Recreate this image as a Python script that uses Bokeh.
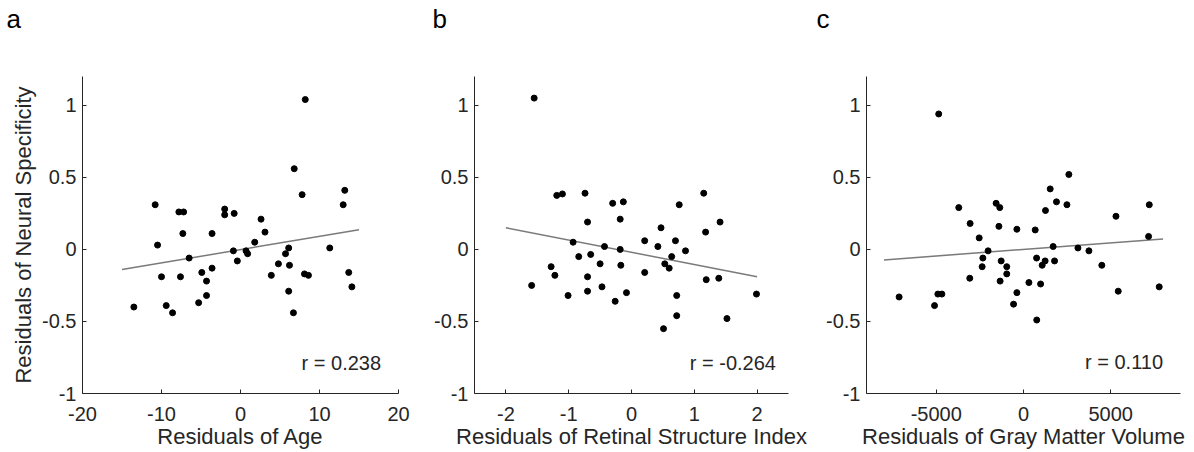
from bokeh.plotting import figure
from bokeh.layouts import row, column
from bokeh.models import Range1d, Label, FixedTicker, CustomJSTickFormatter
from bokeh.core.properties import value
from bokeh.embed import file_html
from bokeh.resources import INLINE

FONT = "Liberation Sans"
TXT = "#262626"

# Panel a: residuals of age
age_x = [-13.5, -10.8, -10.5, -10.0, -9.4, -8.6, -7.8, -7.2, -7.6, -7.3, -6.5, -5.3,
         -4.9, -4.3, -4.3, -3.6, -3.6, -2.0, -2.0, -0.8, -0.9, -0.4, 0.7, 0.9, 1.8,
         2.6, 3.1, 3.9, 4.8, 5.7, 6.1, 6.2, 6.1, 6.7, 6.8, 7.8, 8.2, 8.1, 8.6, 11.3,
         13.0, 13.2, 13.7, 14.1]
age_y = [-0.40, 0.31, 0.03, -0.19, -0.39, -0.44, 0.26, 0.26, -0.19, 0.11, -0.06, -0.37,
         -0.16, -0.22, -0.32, 0.11, -0.13, 0.28, 0.24, 0.25, -0.01, -0.08, -0.01, -0.03,
         0.05, 0.21, 0.12, -0.18, -0.10, -0.03, 0.01, -0.11, -0.29, -0.44, 0.56, 0.38,
         1.04, -0.17, -0.18, 0.01, 0.31, 0.41, -0.16, -0.26]
age_fit_x = [-15, 15]
age_fit_y = [-0.14, 0.137]

# Panel b: residuals of retinal structure index
rsi_x = [-1.55, -1.59, -1.28, -1.22, -1.19, -1.10, -1.01, -0.93, -0.84, -0.74, -0.70,
         -0.70, -0.70, -0.65, -0.50, -0.47, -0.43, -0.30, -0.26, -0.18, -0.18, -0.17,
         -0.13, -0.08, 0.21, 0.21, 0.42, 0.47, 0.51, 0.53, 0.60, 0.64, 0.70, 0.72, 0.72,
         0.76, 0.86, 1.15, 1.18, 1.19, 1.39, 1.41, 1.52, 1.99]
rsi_y = [1.05, -0.25, -0.12, -0.18, 0.375, 0.385, -0.32, 0.05, -0.05, 0.39, 0.19,
         -0.19, -0.29, -0.035, -0.10, -0.26, 0.02, 0.32, -0.36, 0.21, 0.00, -0.11,
         0.33, -0.30, 0.06, -0.16, 0.02, 0.15, -0.55, -0.10, -0.13, -0.05, 0.06, -0.32,
         -0.46, 0.31, -0.01, 0.39, 0.12, -0.21, -0.20, 0.19, -0.48, -0.31]
rsi_fit_x = [-2, 2]
rsi_fit_y = [0.15, -0.19]

# Panel c: residuals of gray matter volume
gmv_x = [-7130, -5100, -4860, -4910, -4680, -3710, -3060, -3080, -2540, -2330, -2370,
         -2030, -1570, -1360, -1410, -1280, -1340, -960, -960, -570, -380, -380, 310,
         670, 750, 760, 980, 1070, 1240, 1260, 1530, 1700, 1780, 1890, 2490, 2600, 3120,
         3750, 4490, 5300, 5430, 7210, 7170, 7780]
gmv_y = [-0.33, -0.39, 0.94, -0.31, -0.31, 0.29, 0.18, -0.20, 0.08, -0.06, -0.12,
         -0.01, 0.32, 0.29, 0.16, -0.08, -0.22, -0.12, -0.17, -0.38, 0.14, -0.30, -0.23,
         0.135, -0.06, -0.49, -0.24, -0.11, -0.08, 0.27, 0.42, 0.02, -0.08, 0.33, 0.31,
         0.52, 0.01, -0.01, -0.11, 0.23, -0.29, 0.31, 0.09, -0.26]
gmv_fit_x = [-8000, 8000]
gmv_fit_y = [-0.073, 0.073]

panel_letters = ["a", "b", "c"]
x_titles = ["Residuals of Age", "Residuals of Retinal Structure Index",
            "Residuals of Gray Matter Volume"]
y_title = "Residuals of Neural Specificity"
r_texts = ["r = 0.238", "r = -0.264", "r = 0.110"]
x_ranges = [(-20, 20), (-2.5, 2.5), (-9000, 9000)]
x_ticks = [[-20, -10, 0, 10, 20], [-2, -1, 0, 1, 2], [-5000, 0, 5000]]
y_ticks = [-1, -0.5, 0, 0.5, 1]

xs = [age_x, rsi_x, gmv_x]
ys = [age_y, rsi_y, gmv_y]
fxs = [age_fit_x, rsi_fit_x, gmv_fit_x]
fys = [age_fit_y, rsi_fit_y, gmv_fit_y]

r_pos = [(17.8, -0.79), (2.30, -0.79), (8000, -0.78)]

borders_left = [82, 64, 56]
borders_right = [12, 22, 6]
frame_widths = [316, 314, 314]
TOTAL_W = sum(borders_left) + sum(borders_right) + sum(frame_widths)
HEAD_H = 44

# header strip holding the panel letters (pixel coordinates, y measured from its bottom)
head = figure(title=None, frame_width=TOTAL_W, frame_height=HEAD_H, min_border=0,
              x_range=Range1d(0, TOTAL_W), y_range=Range1d(0, HEAD_H),
              x_axis_location=None, y_axis_location=None,
              output_backend="svg", toolbar_location=None)
head.outline_line_color = None
head.grid.visible = False
letter_x = [6, 432, 816]
letter_y = [HEAD_H - 18] * 3
head.text(x=letter_x, y=letter_y, text=panel_letters, text_font=value(FONT),
          text_font_size="26px", text_color="black", text_align="left",
          text_baseline="alphabetic")

fmt = CustomJSTickFormatter(code="return tick.toString();")

figs = []
for i in range(3):
    p = figure(frame_width=frame_widths[i], frame_height=317,
               min_border_left=borders_left[i], min_border_right=borders_right[i],
               min_border_top=76 - HEAD_H, min_border_bottom=56,
               x_range=Range1d(*x_ranges[i]), y_range=Range1d(-1, 1.2),
               output_backend="svg", toolbar_location=None)
    p.outline_line_color = None
    p.grid.visible = False
    p.background_fill_color = "white"
    p.border_fill_color = "white"

    p.line(fxs[i], fys[i], line_color="#7a7a7a", line_width=1.5)
    p.scatter(xs[i], ys[i], size=6, fill_color="black", line_color="black")

    for ax in (p.xaxis[0], p.yaxis[0]):
        ax.axis_line_color = TXT
        ax.axis_line_width = 1
        ax.major_tick_line_color = TXT
        ax.major_tick_in = 4
        ax.major_tick_out = 0
        ax.minor_tick_line_color = None
        ax.major_label_text_font = FONT
        ax.major_label_text_font_size = "20px"
        ax.major_label_text_color = TXT
        ax.axis_label_text_font = FONT
        ax.axis_label_text_font_size = "22px"
        ax.axis_label_text_font_style = "normal"
        ax.axis_label_text_color = TXT
        ax.formatter = fmt
    p.xaxis.ticker = FixedTicker(ticks=x_ticks[i])
    p.yaxis.ticker = FixedTicker(ticks=y_ticks)
    p.xaxis.major_label_standoff = 13
    p.yaxis.major_label_standoff = 6
    p.xaxis.axis_label = x_titles[i]
    p.xaxis.axis_label_standoff = 0
    if i == 0:
        p.yaxis.axis_label = y_title
        p.yaxis.axis_label_standoff = 3

    p.add_layout(Label(x=r_pos[i][0], y=r_pos[i][1], text=r_texts[i],
                       text_align="right", text_baseline="middle",
                       text_font=FONT, text_font_size="20px", text_color=TXT))
    figs.append(p)

layout = column(head, row(*figs, spacing=0), spacing=0)
open("out.html", "w").write(file_html(layout, INLINE))
